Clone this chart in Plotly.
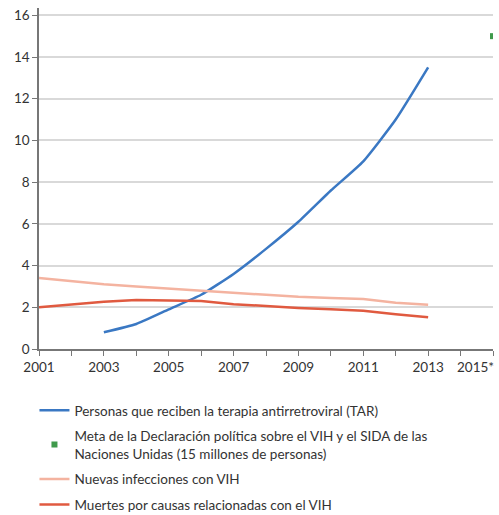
import plotly.graph_objects as go

years = list(range(2001, 2014))
art_years = list(range(2003, 2014))
art = [0.8, 1.2, 1.9, 2.6, 3.6, 4.8, 6.1, 7.6, 9.0, 11.0, 13.5]
new_inf = [3.4, 3.25, 3.1, 3.0, 2.9, 2.78, 2.68, 2.6, 2.5, 2.45, 2.4, 2.22, 2.12]
deaths = [2.0, 2.15, 2.27, 2.35, 2.32, 2.3, 2.15, 2.05, 1.97, 1.9, 1.83, 1.67, 1.52]
target_x = [2015]
target_y = [15]

names = [
    "Personas que reciben la terapia antirretroviral (TAR)",
    "Meta de la Declaración política sobre el VIH y el SIDA de las<br>Naciones Unidas (15 millones de personas)",
    "Nuevas infecciones con VIH",
    "Muertes por causas relacionadas con el VIH",
]
tick_vals = list(range(2001, 2016))
tick_text = [str(y) if (y % 2 == 1 and y < 2015) else "" for y in tick_vals]

FONT = "Lato"
FS = 13.5
TXT = "#333333"
fig = go.Figure()
fig.add_trace(go.Scatter(x=art_years, y=art, mode="lines", name=names[0], legendgroup="a",
                         line=dict(color="#3a78c3", width=2.5, shape="spline", smoothing=0.5)))
fig.add_trace(go.Scatter(x=target_x, y=target_y, mode="markers", name=names[1], legendgroup="b",
                         marker=dict(color="#3f9a4c", size=6, symbol="square")))
fig.add_trace(go.Scatter(x=years, y=new_inf, mode="lines", name=names[2], legendgroup="c",
                         line=dict(color="#f4b3a0", width=2.5)))
fig.add_trace(go.Scatter(x=years, y=deaths, mode="lines", name=names[3], legendgroup="d",
                         line=dict(color="#e05a40", width=2.5)))

fig.update_layout(
    width=499, height=520,
    margin=dict(l=39, r=6, t=8, b=171),
    paper_bgcolor="white", plot_bgcolor="white",
    font=dict(family=FONT, size=FS, color=TXT),
    showlegend=True,
    legend=dict(orientation="v", x=-0.01, xanchor="left",
                yref="container", y=0.0, yanchor="bottom",
                font=dict(family=FONT, size=FS, color=TXT),
                tracegroupgap=5, itemwidth=30, borderwidth=0),
    xaxis=dict(range=[2001, 2015], tickmode="array", tickvals=tick_vals, ticktext=tick_text,
               ticks="outside", ticklen=5, tickcolor="#777777", tickwidth=1.2,
               showline=True, linecolor="#777777", linewidth=1.5,
               showgrid=False, zeroline=False, tickfont=dict(size=FS, color=TXT)),
    yaxis=dict(range=[0, 16.35], tickvals=[0, 2, 4, 6, 8, 10, 12, 14, 16],
               ticks="outside", ticklen=5, tickcolor="#777777", tickwidth=1.2,
               showline=True, linecolor="#777777", linewidth=1.5,
               showgrid=True, gridcolor="#d9d9d9", gridwidth=1.5, zeroline=False,
               tickfont=dict(size=FS, color=TXT)),
    annotations=[dict(x=1, xref="paper", y=0, yref="paper", yshift=-8, xshift=3,
                      text="2015*", showarrow=False, xanchor="right", yanchor="top",
                      font=dict(family=FONT, size=FS, color=TXT))],
)

fig.write_html("out.html", config={"displayModeBar": False},
               post_script="document.body.style.margin='0';document.body.style.overflow='hidden';")
